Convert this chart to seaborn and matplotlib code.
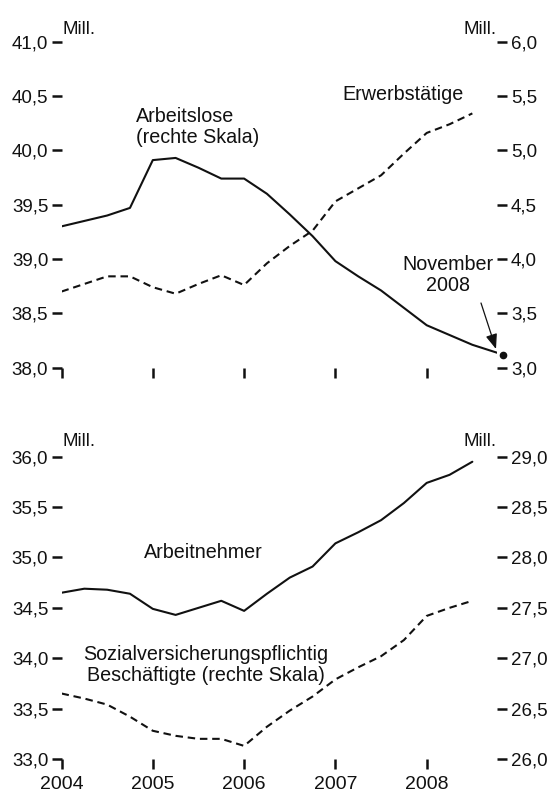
import matplotlib
matplotlib.use("Agg")
import matplotlib.pyplot as plt
from matplotlib.patches import FancyArrowPatch
from matplotlib.ticker import FuncFormatter, FixedLocator
import seaborn as sns
import pandas as pd

# Quarterly observations (position = start of quarter, in decimal years)
quarters = [2004.00, 2004.25, 2004.50, 2004.75, 2005.00, 2005.25, 2005.50, 2005.75,
            2006.00, 2006.25, 2006.50, 2006.75, 2007.00, 2007.25, 2007.50, 2007.75,
            2008.00, 2008.25, 2008.50]

# Upper panel (Mill.)
erwerbstaetige = [38.70, 38.77, 38.84, 38.84, 38.74, 38.68, 38.77, 38.85,
                  38.76, 38.96, 39.12, 39.26, 39.53, 39.65, 39.77, 39.97,
                  40.16, 40.24, 40.34]
arbeitslose = [4.30, 4.35, 4.40, 4.47, 4.91, 4.93, 4.84, 4.74,
               4.74, 4.60, 4.41, 4.21, 3.98, 3.84, 3.71, 3.55,
               3.39, 3.30, 3.21]
nov_2008_pos = 2008 + 10 / 12
arbeitslose_nov_2008 = 3.12

# Lower panel (Mill.)
arbeitnehmer = [34.65, 34.69, 34.68, 34.64, 34.49, 34.43, 34.50, 34.57,
                34.47, 34.64, 34.80, 34.91, 35.14, 35.25, 35.37, 35.54,
                35.74, 35.82, 35.95]
sv_beschaeftigte = [26.65, 26.60, 26.54, 26.42, 26.28, 26.23, 26.20, 26.20,
                    26.13, 26.32, 26.48, 26.62, 26.79, 26.91, 27.02, 27.18,
                    27.42, 27.50, 27.57]

years = [2004, 2005, 2006, 2007, 2008]
top_left_ticks = [38.0, 38.5, 39.0, 39.5, 40.0, 40.5, 41.0]
top_right_ticks = [3.0, 3.5, 4.0, 4.5, 5.0, 5.5, 6.0]
bot_left_ticks = [33.0, 33.5, 34.0, 34.5, 35.0, 35.5, 36.0]
bot_right_ticks = [26.0, 26.5, 27.0, 27.5, 28.0, 28.5, 29.0]

upper = pd.DataFrame({"t": quarters, "erw": erwerbstaetige, "alo": arbeitslose})
alo_full = pd.DataFrame({"t": quarters + [nov_2008_pos],
                         "alo": arbeitslose + [arbeitslose_nov_2008]})
lower = pd.DataFrame({"t": quarters, "an": arbeitnehmer, "svb": sv_beschaeftigte})

sns.set_style("white")
plt.rcParams["font.family"] = ["Liberation Sans", "DejaVu Sans"]

INK = "#111111"
FS = 14.2        # annotation text
FS_TICK = 13.5   # tick labels
W, H = 548, 795
fig = plt.figure(figsize=(W / 100, H / 100), dpi=100)


def frac(x, y):
    """Pixel position (from top-left) to figure fraction."""
    return x / W, 1 - y / H


X0, X1 = 61.5, 497.0
XLIM = (2004.0, 2004.0 + (X1 - X0) / 91.3)

ax1 = fig.add_axes([X0 / W, 1 - 367.6 / H, (X1 - X0) / W, (367.6 - 41.7) / H])
ax1r = ax1.twinx()
ax2 = fig.add_axes([X0 / W, 1 - 759.0 / H, (X1 - X0) / W, (759.0 - 456.7) / H])
ax2r = ax2.twinx()

LW = 1.5
DASH = (3.6, 2.3)

sns.lineplot(data=upper, x="t", y="erw", ax=ax1, color=INK, lw=LW, estimator=None)
ax1.lines[-1].set_dashes(DASH)
sns.lineplot(data=alo_full, x="t", y="alo", ax=ax1r, color=INK, lw=LW, estimator=None)
ax1r.plot([nov_2008_pos], [arbeitslose_nov_2008], "o", color=INK, ms=4.5, clip_on=False)

sns.lineplot(data=lower, x="t", y="an", ax=ax2, color=INK, lw=LW, estimator=None)
sns.lineplot(data=lower, x="t", y="svb", ax=ax2r, color=INK, lw=LW, estimator=None)
ax2r.lines[-1].set_dashes(DASH)

comma = FuncFormatter(lambda v, _: f"{v:.1f}".replace(".", ","))

for ax, ticks, lim in [(ax1, top_left_ticks, (38, 41)), (ax1r, top_right_ticks, (3, 6)),
                       (ax2, bot_left_ticks, (33, 36)), (ax2r, bot_right_ticks, (26, 29))]:
    ax.set_xlim(*XLIM)
    ax.set_ylim(*lim)
    ax.yaxis.set_major_locator(FixedLocator(ticks))
    ax.yaxis.set_major_formatter(comma)
    ax.set_xlabel("")
    ax.set_ylabel("")
    for s in ax.spines.values():
        s.set_visible(False)
    ax.patch.set_visible(False)

for ax in (ax1, ax2):
    ax.tick_params(axis="y", left=True, right=False, direction="out", length=7,
                   width=1.8, pad=2.5, labelsize=FS_TICK, colors=INK)
    ax.set_xticks(years)
    ax.tick_params(axis="x", bottom=True, direction="out", length=7, width=1.8,
                   pad=5, labelsize=FS_TICK + 0.5, colors=INK)
ax1.tick_params(axis="x", labelbottom=False)

for ax in (ax1r, ax2r):
    ax.tick_params(axis="y", left=False, right=True, labelleft=False, labelright=True,
                   direction="out", length=7, width=1.8, pad=3, labelsize=FS_TICK,
                   colors=INK)
    ax.tick_params(axis="x", bottom=False, labelbottom=False)

# Unit captions
for y in (30, 441):
    fig.text(*frac(62, y), "Mill.", ha="left", va="center", fontsize=FS - 0.7, color=INK)
    fig.text(*frac(497, y), "Mill.", ha="right", va="center", fontsize=FS - 0.7, color=INK)

# Series labels
fig.text(*frac(136, 127), "Arbeitslose\n(rechte Skala)", ha="left", va="center",
         fontsize=FS, color=INK, linespacing=1.1)
fig.text(*frac(464, 95), "Erwerbstätige", ha="right", va="center", fontsize=FS, color=INK)
fig.text(*frac(448, 275), "November\n2008", ha="center", va="center", fontsize=FS,
         color=INK, linespacing=1.1)
fig.text(*frac(203, 553), "Arbeitnehmer", ha="center", va="center", fontsize=FS, color=INK)
fig.text(*frac(206, 665), "Sozialversicherungspflichtig\nBeschäftigte (rechte Skala)",
         ha="center", va="center", fontsize=FS, color=INK, linespacing=1.1)

# Pointer to the latest observation
fig.add_artist(FancyArrowPatch(
    frac(481, 303), frac(496, 349), transform=fig.transFigure,
    arrowstyle="-|>,head_length=9,head_width=3.5", color=INK, lw=0.9,
    shrinkA=0, shrinkB=0))

fig.savefig("out.png", dpi=100)
